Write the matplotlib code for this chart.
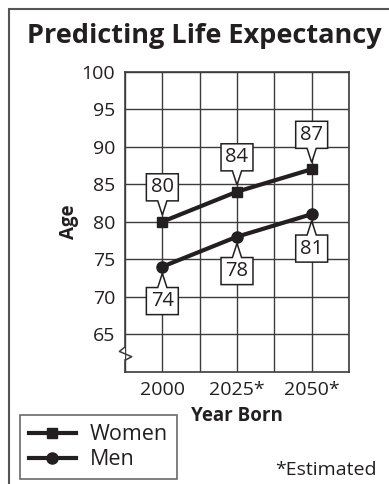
import numpy as np
import matplotlib
matplotlib.use("Agg")
import matplotlib.pyplot as plt
from matplotlib import patches
from matplotlib import transforms
from matplotlib.path import Path
from matplotlib.lines import Line2D

plt.rcParams['font.family'] = ['Open Sans', 'DejaVu Sans']

years = [2000, 2025, 2050]
year_labels = ['2000', '2025*', '2050*']
women = [80, 84, 87]
men = [74, 78, 81]

INK = '#231f20'
GRID = '#3c3c3c'


def callout(ax, x, y, text, above=True):
    # speech-bubble box with a notch pointing at the data point (units: points)
    s = 1 if above else -1
    w, near, far, notch, tip = 11.5, 15.0, 34.5, 3.3, 4.8
    verts = [(-w, s * near), (-notch, s * near), (0, s * tip), (notch, s * near),
             (w, s * near), (w, s * far), (-w, s * far), (-w, s * near)]
    codes = [Path.MOVETO] + [Path.LINETO] * 6 + [Path.CLOSEPOLY]
    trans = (transforms.Affine2D().scale(ax.figure.dpi / 72.0)
             + transforms.ScaledTranslation(x, y, ax.transData))
    poly = patches.PathPatch(Path(verts, codes), transform=trans, facecolor='white',
                             edgecolor=INK, lw=1.1, zorder=5, clip_on=False)
    ax.add_patch(poly)
    ax.text(0, s * (near + far) / 2, text, transform=trans, ha='center', va='center',
            fontsize=14.5, color=INK, zorder=6)


fig = plt.figure(figsize=(3.89, 4.84), dpi=100)

# outer frame running off the right and bottom edges
fig.patches.append(patches.Rectangle((9 / 389, -0.1), 1.0, (484 - 9) / 484 + 0.1,
                                     transform=fig.transFigure, fill=False,
                                     ec='#555555', lw=1.5))

fig.text(0.526, 0.912, 'Predicting Life Expectancy', ha='center', va='baseline',
         fontsize=19.5, fontweight='bold', color=INK)

ax = fig.add_axes([125 / 389, 112.3 / 484, 224 / 389, 300 / 484])
ax.set_xlim(1987.5, 2062.5)
ax.set_ylim(60, 100)

ax.set_xticks(years)
ax.set_xticklabels(year_labels)
ax.set_xticks(np.arange(1987.5, 2063, 12.5), minor=True)
ax.set_yticks(np.arange(65, 101, 5))
ax.tick_params(which='both', length=0, labelsize=14, colors=INK)
ax.tick_params(axis='x', pad=7)
ax.tick_params(axis='y', pad=7)
ax.grid(True, axis='x', which='both', color=GRID, lw=1)
ax.grid(True, axis='y', which='major', color=GRID, lw=1)
ax.set_axisbelow(True)

for side in ['top', 'right', 'bottom']:
    ax.spines[side].set_color(GRID)
    ax.spines[side].set_linewidth(1.2)
ax.spines['left'].set_visible(False)

# left axis with a break near the bottom
bt = ax.get_yaxis_transform()
ax.plot([0, 0], [60, 61.6], color=GRID, lw=1.2, transform=bt, clip_on=False)
ax.plot([0, -0.025, 0.03, 0.005], [63.3, 62.7, 62.0, 61.6], color=GRID, lw=1.1,
        transform=bt, clip_on=False)
ax.plot([0, 0], [63.3, 100], color=GRID, lw=1.2, transform=bt, clip_on=False)

ax.plot(years, women, color=INK, lw=3, marker='s', markersize=7.5, zorder=4)
ax.plot(years, men, color=INK, lw=3, marker='o', markersize=8, zorder=4)

for x, v in zip(years, women):
    callout(ax, x, v, str(v), above=True)
for x, v in zip(years, men):
    callout(ax, x, v, str(v), above=False)

ax.set_xlabel('Year Born', fontsize=13.5, fontweight='bold', color=INK, labelpad=5)
ax.set_ylabel('Age', fontsize=13.5, fontweight='bold', color=INK, labelpad=2)

handles = [Line2D([], [], color=INK, lw=3, marker='s', markersize=7.5),
           Line2D([], [], color=INK, lw=3, marker='o', markersize=8)]
leg = fig.legend(handles, ['Women', 'Men'], loc='lower left',
                 bbox_to_anchor=(20 / 389, 5 / 484), fontsize=15.5, frameon=True,
                 fancybox=False, edgecolor='#444444', handlelength=2.2,
                 handletextpad=0.65, labelspacing=0.2, borderpad=0.4,
                 borderaxespad=0)
leg.get_frame().set_linewidth(1.2)
for t in leg.get_texts():
    t.set_color(INK)

fig.text(377 / 389, 14 / 484, '*Estimated', ha='right', va='center', fontsize=14,
         color=INK)

fig.savefig('out.png', dpi=100)
